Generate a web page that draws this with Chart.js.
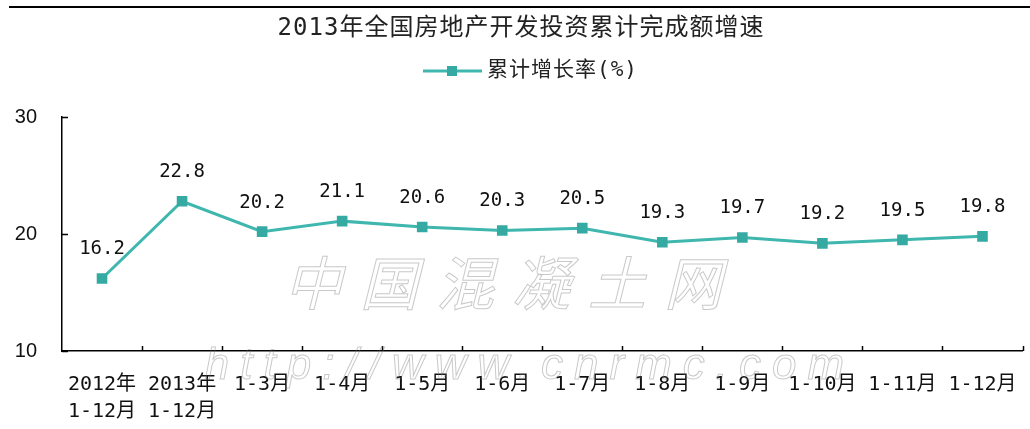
<!DOCTYPE html>
<html><head><meta charset="utf-8">
<script src="https://cdn.jsdelivr.net/npm/chart.js@4.4.0/dist/chart.umd.min.js"></script>
<style>html,body{margin:0;padding:0;background:#fff;}#wrap{width:1030px;height:429px;position:relative;}</style>
</head><body><div id="wrap"><canvas id="c" width="1030" height="429"></canvas></div>
<script>
const chartTitle = '2013年全国房地产开发投资累计完成额增速';
const seriesName = '累计增长率(%)';
const categories = [['2012年','1-12月'],['2013年','1-12月'],'1-3月','1-4月','1-5月','1-6月','1-7月','1-8月','1-9月','1-10月','1-11月','1-12月'];
const growthRate = [16.2,22.8,20.2,21.1,20.6,20.3,20.5,19.3,19.7,19.2,19.5,19.8];
const yTicks = [10,20,30];
const watermarkCn = '中国混凝土网';
const watermarkUrl = 'http://www.cnrmc.com';

const LINE = '#3fb6ae';
const MARK = '#35aaa2';
const MONO = "'DejaVu Sans Mono','Noto Sans CJK SC',monospace";

const decor = {
  id: 'decor',
  beforeDraw(chart) {
    const ctx = chart.ctx;
    ctx.save();
    ctx.fillStyle = '#fff';
    ctx.fillRect(0, 0, chart.width, chart.height);
    ctx.fillStyle = '#000';
    ctx.fillRect(9, 6, chart.width - 9, 2);
    ctx.fillStyle = '#222';
    ctx.font = "24px " + MONO;
    ctx.textAlign = 'center';
    ctx.textBaseline = 'middle';
    try { ctx.letterSpacing = '1px'; } catch(e) {}
    ctx.fillText(chartTitle, 521, 29);
    ctx.font = "21px " + MONO;
    ctx.textAlign = 'left';
    ctx.fillText(seriesName, 487, 71);
    try { ctx.letterSpacing = '0px'; } catch(e) {}
    ctx.strokeStyle = LINE;
    ctx.lineWidth = 3;
    ctx.beginPath(); ctx.moveTo(423, 71); ctx.lineTo(482, 71); ctx.stroke();
    ctx.fillStyle = MARK;
    ctx.fillRect(447, 66, 10, 10);
    ctx.restore();
  },
  afterDraw(chart) {
    const ctx = chart.ctx;
    const ca = chart.chartArea;
    const xs = chart.scales.x, ys = chart.scales.y;
    ctx.save();
    ctx.strokeStyle = '#000';
    ctx.lineWidth = 1.5;
    yTicks.forEach(v => {
      const y = Math.round(ys.getPixelForValue(v)) + 0.5;
      ctx.beginPath(); ctx.moveTo(ca.left, y); ctx.lineTo(ca.left + 6, y); ctx.stroke();
    });
    const n = categories.length;
    for (let i = 1; i <= n; i++) {
      const x = Math.round((xs.getPixelForValue(i - 1) + (i < n ? xs.getPixelForValue(i) : 2 * xs.getPixelForValue(n - 1) - xs.getPixelForValue(n - 2))) / 2) + 0.5;
      ctx.beginPath(); ctx.moveTo(x, ca.bottom); ctx.lineTo(x, ca.bottom - 5); ctx.stroke();
    }
    ctx.strokeStyle = 'rgba(120,120,120,0.4)';
    ctx.lineWidth = 1;
    ctx.textAlign = 'center';
    ctx.textBaseline = 'middle';
    ctx.font = "italic 58px 'Noto Sans CJK SC'";
    try { ctx.letterSpacing = '18px'; } catch(e) {}
    ctx.strokeText(watermarkCn, 512, 283);
    ctx.font = "italic 44px 'Liberation Sans'";
    try { ctx.letterSpacing = '11px'; } catch(e) {}
    ctx.strokeText(watermarkUrl, 530, 367);
    ctx.restore();
  },
  afterDatasetsDraw(chart) {
    const ctx = chart.ctx;
    const meta = chart.getDatasetMeta(0);
    ctx.save();
    ctx.fillStyle = '#111';
    ctx.font = "19px " + MONO;
    ctx.textAlign = 'center';
    ctx.textBaseline = 'middle';
    meta.data.forEach((pt, i) => {
      ctx.fillText(growthRate[i].toFixed(1), pt.x, pt.y - 29);
    });
    ctx.restore();
  }
};

new Chart(document.getElementById('c'), {
  type: 'line',
  data: {
    labels: categories,
    datasets: [{
      label: seriesName,
      data: growthRate,
      borderColor: LINE,
      borderWidth: 3,
      pointStyle: 'rect',
      pointRadius: 7.5,
      pointBackgroundColor: MARK,
      pointBorderColor: MARK,
      pointBorderWidth: 0,
      tension: 0
    }]
  },
  options: {
    responsive: false,
    animation: false,
    devicePixelRatio: 1,
    layout: { padding: { top: 117, right: 7, left: 0, bottom: 0 } },
    plugins: { legend: { display: false }, title: { display: false }, tooltip: { enabled: false } },
    scales: {
      x: {
        type: 'category',
        offset: true,
        grid: { display: false, drawTicks: false },
        border: { display: true, color: '#000', width: 1.5 },
        ticks: {
          color: '#111',
          font: { family: MONO, size: 20, lineHeight: 1.35 },
          padding: 20,
          maxRotation: 0,
          autoSkip: false
        },
        afterFit(s) { s.height = 78; s.paddingLeft = 0; s.paddingRight = 0; }
      },
      y: {
        min: 10, max: 30,
        afterBuildTicks(s) { s.ticks = yTicks.map(v => ({ value: v })); },
        grid: { display: false, drawTicks: false },
        border: { display: true, color: '#000', width: 1.5 },
        ticks: {
          color: '#111',
          font: { family: "'Liberation Sans',Arial,sans-serif", size: 20 },
          padding: 25
        },
        afterFit(s) { s.width = 62; }
      }
    }
  },
  plugins: [decor]
});
</script>
</body></html>
